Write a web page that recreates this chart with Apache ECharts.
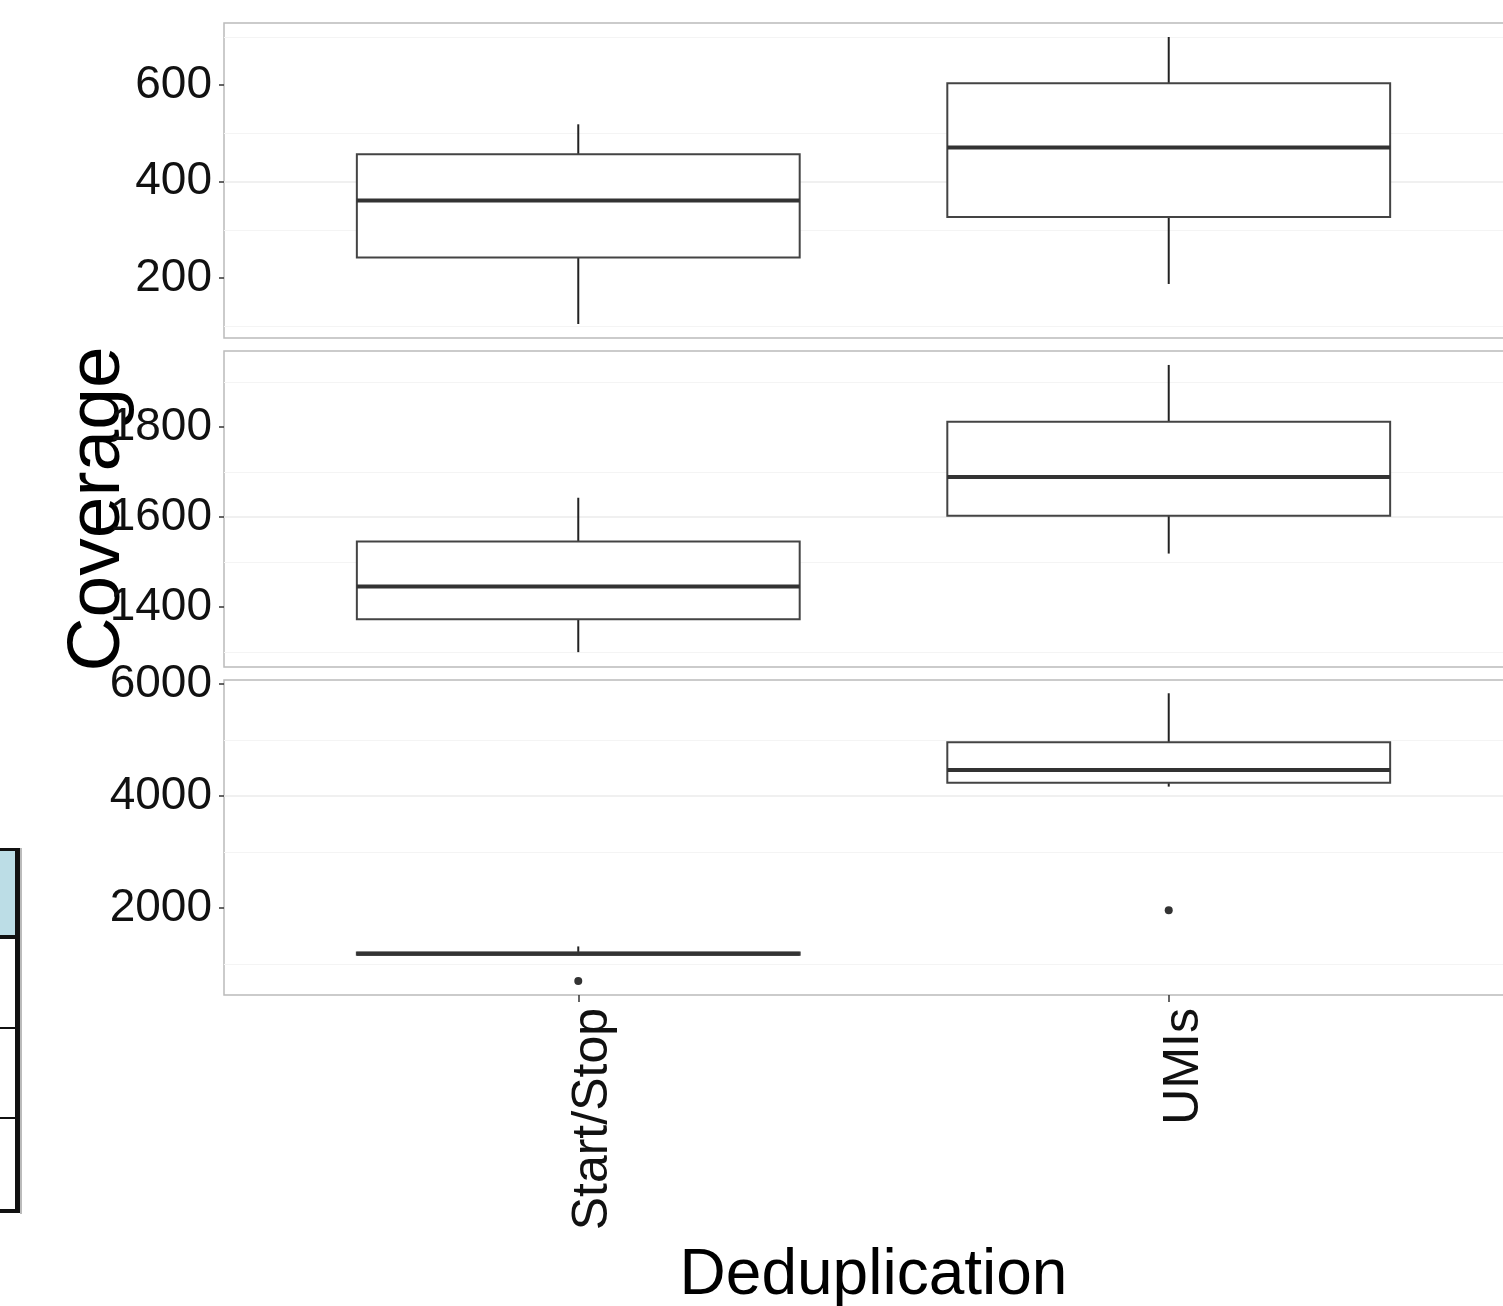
<!DOCTYPE html>
<html>
<head>
<meta charset="utf-8">
<script src="https://cdn.jsdelivr.net/npm/echarts@6/dist/echarts.min.js"></script>
<style>
  html, body { margin: 0; padding: 0; background: #fff; }
  #chart { width: 1503px; height: 1306px; }
</style>
</head>
<body>
<div id="chart"></div>
<script>
  // categories on the x axis (positions 1 and 2)
  const categories = ['Start/Stop', 'UMIs']
  const categoryPos = [1, 2]

  // boxes: [x, lower whisker, Q1, median, Q3, upper whisker]
  const topBoxes = [[1, 105, 243, 361, 457, 519], [2, 188, 327, 471, 604, 700]]
  const midBoxes = [[1, 1300, 1373, 1446, 1546, 1643], [2, 1519, 1603, 1689, 1812, 1938]]
  const bottomBoxes = [[1, 1150, 1160, 1180, 1200, 1310], [2, 4166, 4237, 4464, 4957, 5834]]
  const bottomOutliers = [[1, 691], [2, 1957]]

  // y ranges of the three panels and their labelled ticks
  const topRange = [76, 729]
  const midRange = [1267, 1969]
  const bottomRange = [442, 6071]
  const topTicks = [200, 400, 600]
  const midTicks = [1400, 1600, 1800]
  const bottomTicks = [2000, 4000, 6000]

  const BOX_WIDTH = 0.75
  const sans = '"Liberation Sans", Arial, Helvetica, sans-serif'

  function renderBox(params, api) {
    const x = api.value(0)
    const pMin = api.coord([x, api.value(1)])
    const pQ1 = api.coord([x, api.value(2)])
    const pMed = api.coord([x, api.value(3)])
    const pQ3 = api.coord([x, api.value(4)])
    const pMax = api.coord([x, api.value(5)])
    const halfW = api.size([BOX_WIDTH, 0])[0] / 2
    return {
      type: 'group',
      children: [
        { type: 'line', shape: { x1: pMin[0], y1: pMin[1], x2: pQ1[0], y2: pQ1[1] }, style: { stroke: '#222', lineWidth: 2 } },
        { type: 'line', shape: { x1: pQ3[0], y1: pQ3[1], x2: pMax[0], y2: pMax[1] }, style: { stroke: '#222', lineWidth: 2 } },
        { type: 'rect', shape: { x: pQ3[0] - halfW, y: pQ3[1], width: halfW * 2, height: pQ1[1] - pQ3[1] },
          style: { fill: '#fff', stroke: '#444', lineWidth: 2 } },
        { type: 'line', shape: { x1: pMed[0] - halfW, y1: pMed[1], x2: pMed[0] + halfW, y2: pMed[1] },
          style: { stroke: '#333', lineWidth: 4 } }
      ]
    }
  }

  const grids = [
    { left: 224, width: 1299, top: 23, height: 315 },
    { left: 224, width: 1299, top: 351, height: 316 },
    { left: 224, width: 1299, top: 680, height: 315 }
  ].map(g => Object.assign(g, {
    show: true, borderColor: '#bbbbbb', borderWidth: 1.5, backgroundColor: '#fff',
    containLabel: false, outerBoundsMode: 'none'
  }))

  function makeX(i) {
    const isBottom = i === 2
    return {
      gridIndex: i,
      type: 'value',
      min: 0.4,
      max: 2.6,
      splitNumber: 2,
      axisLine: { show: false },
      axisTick: { show: isBottom, customValues: categoryPos, length: 7, lineStyle: { color: '#333', width: 1.5 } },
      axisLabel: {
        show: isBottom,
        customValues: categoryPos,
        rotate: 90,
        margin: 13,
        fontSize: 50,
        fontFamily: sans,
        color: '#111',
        verticalAlign: 'top',
        lineHeight: 30,
        formatter: v => categories[Math.round(v) - 1]
      },
      splitLine: { show: true, showMinLine: false, showMaxLine: false, lineStyle: { color: '#ececec', width: 1 } },
      name: isBottom ? 'Deduplication' : '',
      nameLocation: 'middle',
      nameGap: 249,
      nameMoveOverlap: false,
      nameTextStyle: { fontSize: 64, fontFamily: sans, color: '#000' }
    }
  }

  function makeY(i, range, ticks) {
    return {
      gridIndex: i,
      type: 'value',
      min: range[0],
      max: range[1],
      splitNumber: 3,
      axisLine: { show: false },
      axisTick: { show: true, customValues: ticks, length: 5, lineStyle: { color: '#333', width: 1.5 } },
      axisLabel: { customValues: ticks, margin: 12, fontSize: 46, fontFamily: sans, color: '#111', formatter: v => String(v) },
      splitLine: { show: true, showMinLine: false, showMaxLine: false, lineStyle: { color: '#ebebeb', width: 1.5 } },
      minorTick: { show: false, splitNumber: 2 },
      minorSplitLine: { show: true, lineStyle: { color: '#f4f4f4', width: 1 } },
      name: i === 1 ? 'Coverage' : '',
      nameLocation: 'middle',
      nameRotate: 90,
      nameGap: 88,
      nameMoveOverlap: false,
      nameTextStyle: { fontSize: 75, fontFamily: sans, color: '#000' }
    }
  }

  const chart = echarts.init(document.getElementById('chart'))
  chart.setOption({
    animation: false,
    backgroundColor: '#fff',
    grid: grids,
    xAxis: [makeX(0), makeX(1), makeX(2)],
    yAxis: [makeY(0, topRange, topTicks), makeY(1, midRange, midTicks), makeY(2, bottomRange, bottomTicks)],
    series: [
      { type: 'custom', xAxisIndex: 0, yAxisIndex: 0, renderItem: renderBox, encode: { x: 0, y: [1, 2, 3, 4, 5] }, data: topBoxes },
      { type: 'custom', xAxisIndex: 1, yAxisIndex: 1, renderItem: renderBox, encode: { x: 0, y: [1, 2, 3, 4, 5] }, data: midBoxes },
      { type: 'custom', xAxisIndex: 2, yAxisIndex: 2, renderItem: renderBox, encode: { x: 0, y: [1, 2, 3, 4, 5] }, data: bottomBoxes },
      { type: 'scatter', xAxisIndex: 2, yAxisIndex: 2, symbolSize: 8, itemStyle: { color: '#333', opacity: 1 }, data: bottomOutliers }
    ],
    // piece of a neighbouring table that is cut off at the left edge
    graphic: [
      { type: 'rect', shape: { x: 0, y: 850, width: 16, height: 87 }, style: { fill: '#bcdde6' } },
      { type: 'line', shape: { x1: 21, y1: 848, x2: 21, y2: 1214 }, style: { stroke: '#bbb', lineWidth: 2 } },
      { type: 'line', shape: { x1: 17.5, y1: 848, x2: 17.5, y2: 1213 }, style: { stroke: '#111', lineWidth: 5 } },
      { type: 'line', shape: { x1: 0, y1: 849.5, x2: 20, y2: 849.5 }, style: { stroke: '#111', lineWidth: 3 } },
      { type: 'line', shape: { x1: 0, y1: 937, x2: 20, y2: 937 }, style: { stroke: '#111', lineWidth: 4 } },
      { type: 'line', shape: { x1: 0, y1: 1028, x2: 20, y2: 1028 }, style: { stroke: '#111', lineWidth: 2 } },
      { type: 'line', shape: { x1: 0, y1: 1118, x2: 20, y2: 1118 }, style: { stroke: '#111', lineWidth: 2 } },
      { type: 'line', shape: { x1: 0, y1: 1211, x2: 20, y2: 1211 }, style: { stroke: '#111', lineWidth: 4 } }
    ]
  })
</script>
</body>
</html>
